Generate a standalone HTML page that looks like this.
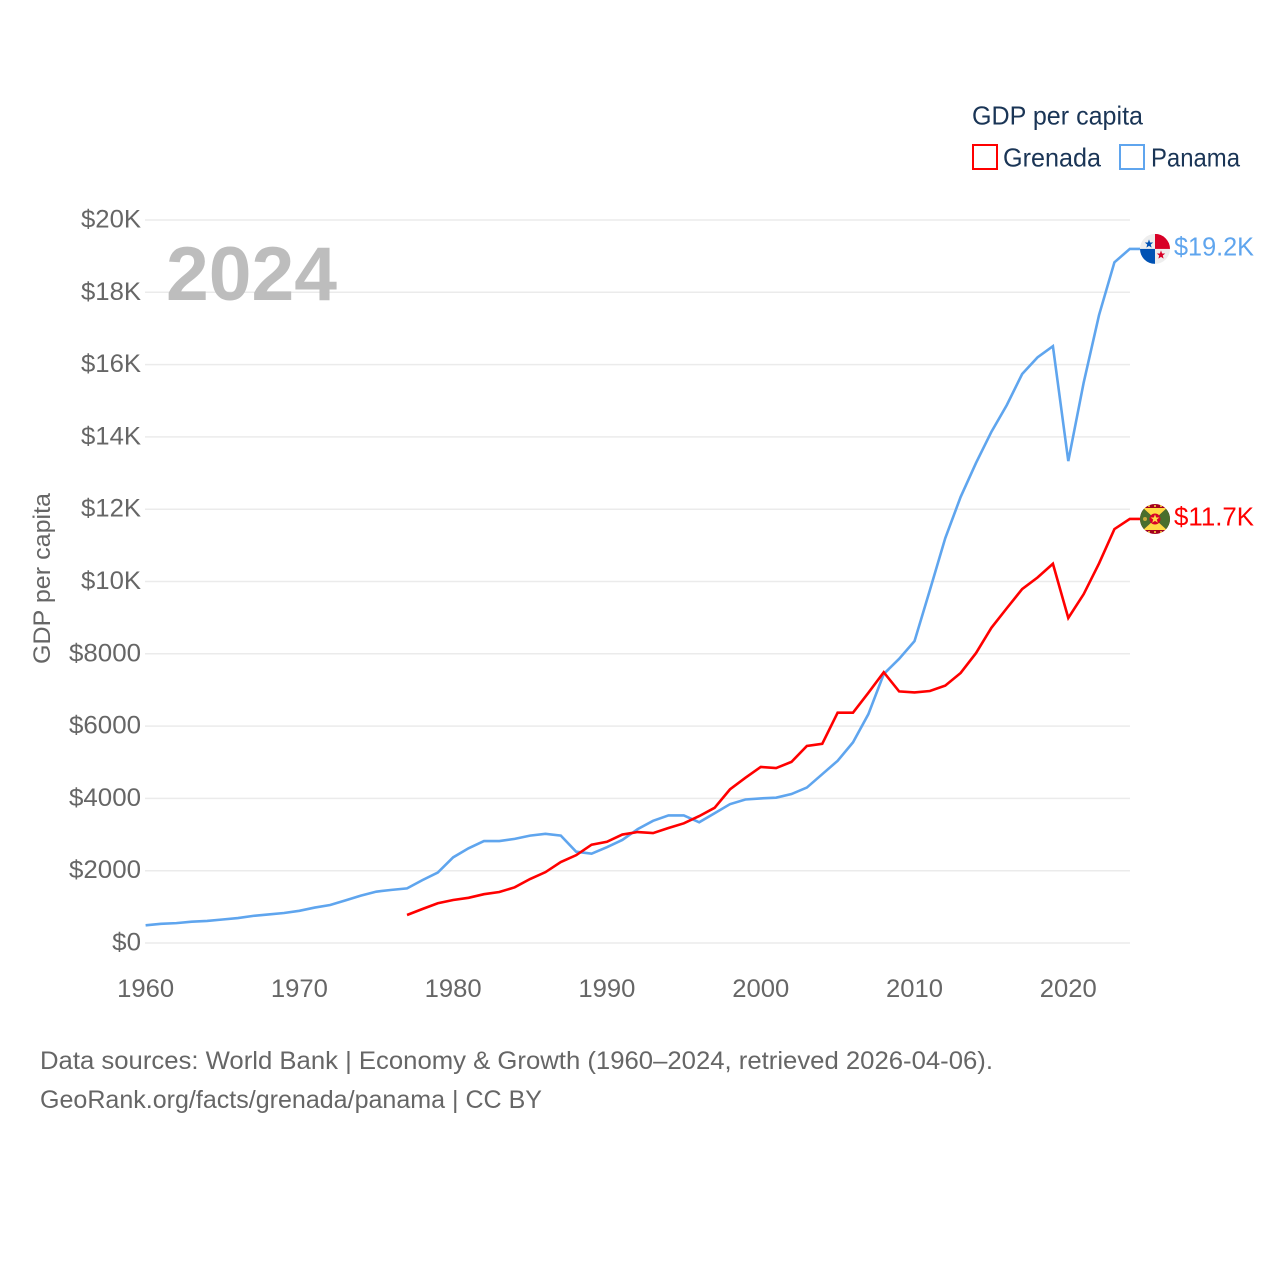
<!DOCTYPE html>
<html lang="en">
<head>
<meta charset="utf-8">
<title>GDP per capita: Grenada and Panama</title>
<style>
  html, body { margin: 0; padding: 0; background: #fff; }
  svg { display: block; font-family: "Liberation Sans", sans-serif; }
</style>
</head>
<body>
<svg id="chart" width="1280" height="1280" viewBox="0 0 1280 1280" xmlns="http://www.w3.org/2000/svg">
  <defs>
    <clipPath id="flag-clip"><circle cx="0" cy="0" r="15"/></clipPath>
  </defs>
  <rect width="1280" height="1280" fill="#ffffff"/>
  <g id="grid"></g>
  <g id="y-ticks"></g>
  <g id="x-ticks"></g>
  <text x="166" y="300" font-size="76" font-weight="700" fill="#bdbdbd" textLength="171" lengthAdjust="spacingAndGlyphs">2024</text>
  <text transform="translate(50 578.5) rotate(-90)" text-anchor="middle" font-size="24" fill="#666666" textLength="171" lengthAdjust="spacingAndGlyphs">GDP per capita</text>
  <g id="series"></g>

  <g id="flag-panama">
    <g clip-path="url(#flag-clip)">
      <rect x="-15" y="-15" width="30" height="30" fill="#eeeeee"/>
      <rect x="0" y="-15" width="15" height="15" fill="#d80027"/>
      <rect x="-15" y="0" width="15" height="15" fill="#0052b4"/>
      <polygon fill="#0052b4" points="-6,-9.5 -4.9,-6.4 -1.8,-6.4 -4.2,-4.4 -3.4,-1.3 -6,-3 -8.6,-1.3 -7.8,-4.4 -10.2,-6.4 -7.1,-6.4"/>
      <polygon fill="#d80027" points="6,1.5 7.1,4.6 10.2,4.6 7.8,6.6 8.6,9.7 6,8 3.4,9.7 4.2,6.6 1.8,4.6 4.9,4.6"/>
    </g>
  </g>
  <g id="flag-grenada">
    <g clip-path="url(#flag-clip)">
      <rect x="-15" y="-15" width="30" height="30" fill="#a2001d"/>
      <polygon fill="#ffda44" points="-12,-11 12,-11 0,0"/>
      <polygon fill="#ffda44" points="-12,11 12,11 0,0"/>
      <polygon fill="#496e2d" points="-15,-11 -12,-11 0,0 -12,11 -15,11"/>
      <polygon fill="#496e2d" points="15,-11 12,-11 0,0 12,11 15,11"/>
      <circle cx="0" cy="0" r="5.5" fill="#d80027"/>
      <polygon fill="#ffda44" points="0,-4.5 1.2,-1.4 4.4,-1.4 1.8,0.6 2.8,3.8 0,1.9 -2.8,3.8 -1.8,0.6 -4.4,-1.4 -1.2,-1.4"/>
      <circle cx="-10" cy="0" r="2" fill="#c9a93a"/>
      <circle cx="-6" cy="-13" r="1" fill="#ffda44"/>
      <circle cx="0" cy="-13" r="1" fill="#ffda44"/>
      <circle cx="6" cy="-13" r="1" fill="#ffda44"/>
      <circle cx="-6" cy="13" r="1" fill="#ffda44"/>
      <circle cx="0" cy="13" r="1" fill="#ffda44"/>
      <circle cx="6" cy="13" r="1" fill="#ffda44"/>
    </g>
  </g>
  <g id="end-labels"></g>

  <g>
    <text x="972" y="124.5" font-size="26" fill="#1a3556" textLength="171" lengthAdjust="spacingAndGlyphs">GDP per capita</text>
    <g>
      <rect x="973" y="145" width="24" height="24" fill="none" stroke="#ff0000" stroke-width="2"/>
      <text x="1003" y="166.5" font-size="26" fill="#1a3556" textLength="98" lengthAdjust="spacingAndGlyphs">Grenada</text>
    </g>
    <g>
      <rect x="1120" y="145" width="24" height="24" fill="none" stroke="#5fa5ee" stroke-width="2"/>
      <text x="1151" y="166.5" font-size="26" fill="#1a3556" textLength="89" lengthAdjust="spacingAndGlyphs">Panama</text>
    </g>
  </g>

  <text x="40" y="1069" font-size="25" fill="#666666" textLength="953" lengthAdjust="spacingAndGlyphs">Data sources: World Bank | Economy &amp; Growth (1960–2024, retrieved 2026-04-06).</text>
  <text x="40" y="1108" font-size="25" fill="#666666" textLength="502" lengthAdjust="spacingAndGlyphs">GeoRank.org/facts/grenada/panama | CC BY</text>
</svg>

<script>
const panamaYears = [1960,1961,1962,1963,1964,1965,1966,1967,1968,1969,1970,1971,1972,1973,1974,1975,1976,1977,1978,1979,1980,1981,1982,1983,1984,1985,1986,1987,1988,1989,1990,1991,1992,1993,1994,1995,1996,1997,1998,1999,2000,2001,2002,2003,2004,2005,2006,2007,2008,2009,2010,2011,2012,2013,2014,2015,2016,2017,2018,2019,2020,2021,2022,2023,2024];
const panamaValues = [490,530,550,590,610,650,690,750,790,830,890,980,1050,1180,1310,1420,1470,1510,1740,1950,2370,2620,2820,2820,2880,2970,3020,2970,2525,2470,2650,2850,3150,3380,3530,3530,3340,3590,3840,3970,4000,4020,4120,4300,4670,5040,5550,6330,7440,7860,8350,9760,11200,12340,13280,14140,14880,15740,16200,16510,13330,15500,17370,18830,19200];
const grenadaYears = [1977,1978,1979,1980,1981,1982,1983,1984,1985,1986,1987,1988,1989,1990,1991,1992,1993,1994,1995,1996,1997,1998,1999,2000,2001,2002,2003,2004,2005,2006,2007,2008,2009,2010,2011,2012,2013,2014,2015,2016,2017,2018,2019,2020,2021,2022,2023,2024];
const grenadaValues = [775,940,1100,1190,1250,1350,1410,1540,1770,1960,2240,2430,2720,2800,3000,3070,3040,3180,3310,3510,3740,4250,4570,4870,4840,5010,5450,5510,6370,6370,6920,7490,6960,6930,6970,7120,7470,8020,8720,9260,9790,10110,10490,8990,9650,10500,11450,11730];
const yTickValues = [0,2000,4000,6000,8000,10000,12000,14000,16000,18000,20000];
const yTickLabels = ["$0","$2000","$4000","$6000","$8000","$10K","$12K","$14K","$16K","$18K","$20K"];
const xTickValues = [1960,1970,1980,1990,2000,2010,2020];
const panamaEndLabel = "$19.2K";
const grenadaEndLabel = "$11.7K";

const NS = "http://www.w3.org/2000/svg";
const xAxis = year => 145.6 + (year - 1960) * (984.2 / 64);
const yAxis = value => 943 - value * (723 / 20000);
const labelWidth = label => label.length * 14.4 + (label.endsWith("K") ? 2.4 : 0);

function make(tag, parent, attrs, text) {
  const el = document.createElementNS(NS, tag);
  for (const key in attrs) el.setAttribute(key, attrs[key]);
  if (text !== undefined) el.textContent = text;
  parent.appendChild(el);
  return el;
}

const gridGroup = document.getElementById("grid");
const yTickGroup = document.getElementById("y-ticks");
yTickValues.forEach((value, i) => {
  const y = yAxis(value);
  const line = make("line", gridGroup, { x1: 145, x2: 1130, y1: y, y2: y, stroke: "#ebebeb", "stroke-width": 1.5 });
  
  
  const w = labelWidth(yTickLabels[i]);
  const label = make("text", yTickGroup, { x: 141 - w, y: y + 7.5, "font-size": 25, fill: "#666666", textLength: w, lengthAdjust: "spacingAndGlyphs" }, yTickLabels[i]);
  
  
});

const xTickGroup = document.getElementById("x-ticks");
xTickValues.forEach(year => {
  const label = make("text", xTickGroup, { x: xAxis(year) - 28.5, y: 997, "font-size": 25, fill: "#666666", textLength: 57, lengthAdjust: "spacingAndGlyphs" }, String(year));
  
  
});

function linePath(years, values) {
  const pts = years.map((year, i) => xAxis(year).toFixed(2) + "," + yAxis(values[i]).toFixed(2));
  const last = yAxis(values[values.length - 1]).toFixed(2);
  return "M" + pts.join("L") + "L1140," + last;
}

const seriesGroup = document.getElementById("series");
const panamaLine = make("path", seriesGroup, { d: linePath(panamaYears, panamaValues), fill: "none", stroke: "#5fa5ee", "stroke-width": 2.6, "stroke-linejoin": "miter" });


const grenadaLine = make("path", seriesGroup, { d: linePath(grenadaYears, grenadaValues), fill: "none", stroke: "#ff0000", "stroke-width": 2.6, "stroke-linejoin": "miter" });



const panamaEndY = yAxis(panamaValues[panamaValues.length - 1]);
const grenadaEndY = yAxis(grenadaValues[grenadaValues.length - 1]);
document.getElementById("flag-panama").setAttribute("transform", "translate(1155 " + panamaEndY + ")");
document.getElementById("flag-grenada").setAttribute("transform", "translate(1155 " + grenadaEndY + ")");

const endGroup = document.getElementById("end-labels");
const panamaEnd = make("text", endGroup, { x: 1174, y: panamaEndY + 6.5, "font-size": 26, fill: "#5fa5ee", textLength: 80, lengthAdjust: "spacingAndGlyphs" }, panamaEndLabel);


const grenadaEnd = make("text", endGroup, { x: 1174, y: grenadaEndY + 6.5, "font-size": 26, fill: "#ff0000", textLength: 80, lengthAdjust: "spacingAndGlyphs" }, grenadaEndLabel);


</script>
</body>
</html>
